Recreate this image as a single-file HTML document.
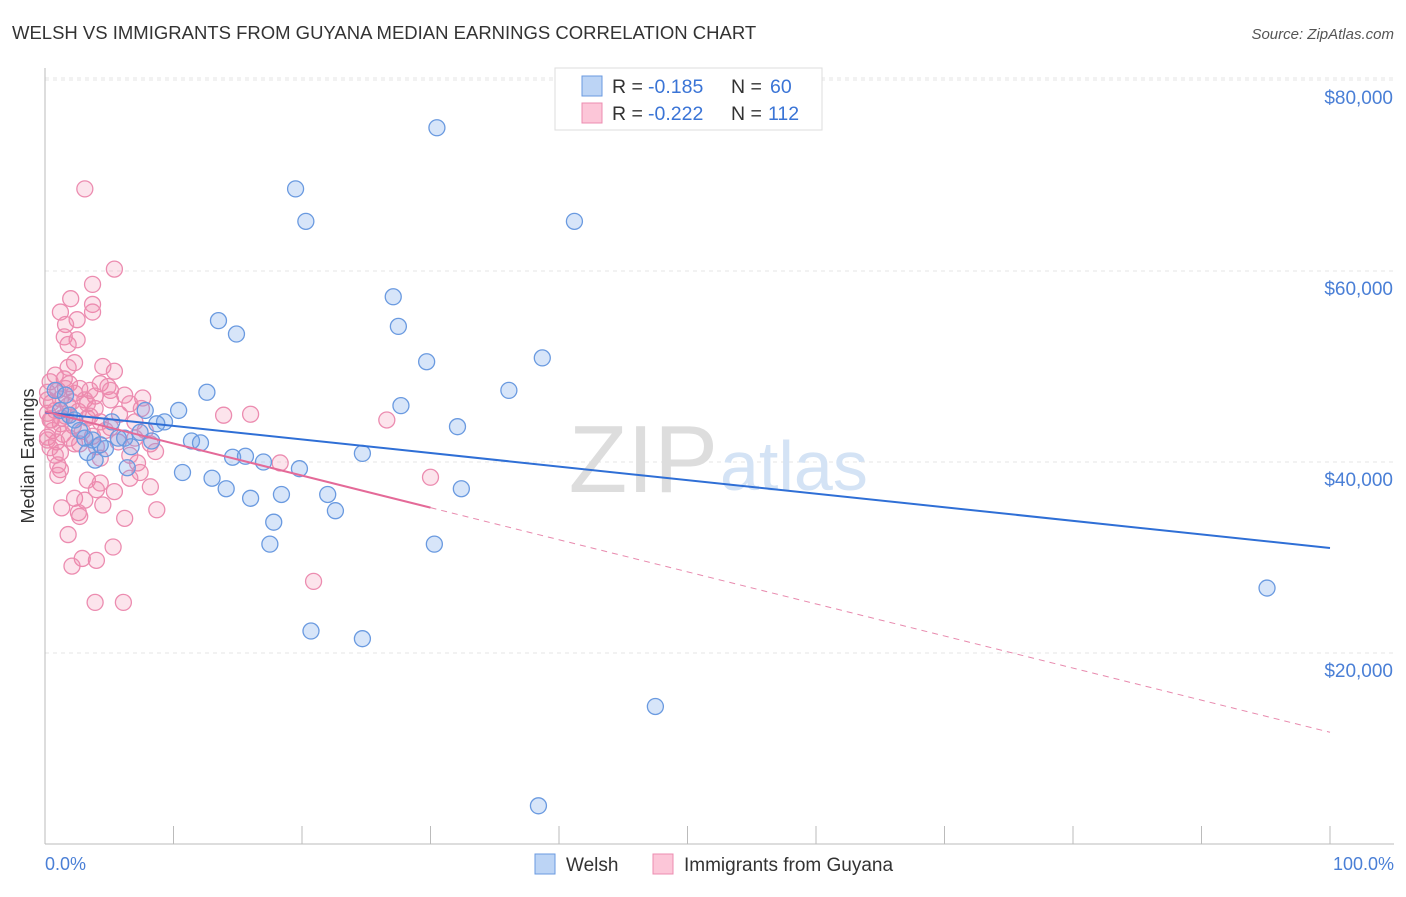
<!DOCTYPE html>
<html><head><meta charset="utf-8"><style>
body{margin:0;background:#fff;font-family:"Liberation Sans",sans-serif;}
svg text{font-family:"Liberation Sans",sans-serif;}
</style></head><body>
<svg id="chart" width="1406" height="892">
<text x="12" y="39" font-size="18.5" fill="#333">WELSH VS IMMIGRANTS FROM GUYANA MEDIAN EARNINGS CORRELATION CHART</text>
<text x="1394" y="39" font-size="15" fill="#555" text-anchor="end" font-style="italic">Source: ZipAtlas.com</text>
<g id="grid"></g>
<text x="718" y="492" font-size="96" fill="#ddd" text-anchor="end" font-family="Liberation Serif">ZIP</text>
<text x="720" y="490" font-size="70" fill="#d4e3f5">atlas</text>
<g id="axes"></g>
<g id="marks"></g>
<text x="34" y="456" font-size="18" fill="#333" text-anchor="middle" transform="rotate(-90 34 456)">Median Earnings</text>
<text x="45" y="870" font-size="18" fill="#4a7fd6">0.0%</text>
<text x="1394" y="870" font-size="18" fill="#4a7fd6" text-anchor="end">100.0%</text>
<g>
<rect x="555" y="68" width="267" height="62" fill="#fff" stroke="#ddd"/>
<rect x="582" y="76" width="20" height="20" fill="#bcd4f5" stroke="#6a9ae0"/>
<rect x="582" y="103" width="20" height="20" fill="#fcc6d8" stroke="#ec8cb0"/>
<text x="612" y="93" font-size="19.5" fill="#333">R =</text>
<text x="648" y="93" font-size="19.5" fill="#3a74d6">-0.185</text>
<text x="731" y="93" font-size="19.5" fill="#333">N =</text>
<text x="770" y="93" font-size="19.5" fill="#3a74d6">60</text>
<text x="612" y="120" font-size="19.5" fill="#333">R =</text>
<text x="648" y="120" font-size="19.5" fill="#3a74d6">-0.222</text>
<text x="731" y="120" font-size="19.5" fill="#333">N =</text>
<text x="768" y="120" font-size="19.5" fill="#3a74d6">112</text>
</g>
<g>
<rect x="535" y="854" width="20" height="20" fill="#bcd4f5" stroke="#6a9ae0"/>
<text x="566" y="871" font-size="19" fill="#333">Welsh</text>
<rect x="653" y="854" width="20" height="20" fill="#fcc6d8" stroke="#ec8cb0"/>
<text x="684" y="871" font-size="19" fill="#333">Immigrants from Guyana</text>
</g>
</svg>
<script>
const yTicks=[20000,40000,60000,80000];
const yTickLabels=["$20,000","$40,000","$60,000","$80,000"];
const xTicks=[0,10,20,30,40,50,60,70,80,90,100];
const welshX=[30.5,19.5,20.3,41.2,27.1,13.5,14.9,27.5,38.7,29.7,36.1,12.6,27.7,10.4,7.8,32.1,9.3,8.7,5.2,7.4,11.4,12.1,8.3,5.7,6.2,3.7,6.7,4.7,3.3,24.7,14.6,15.6,17.0,19.8,6.4,10.7,13.0,14.1,16.0,18.4,22.0,32.4,22.6,17.8,17.5,30.3,20.7,24.7,95.1,47.5,38.4,1.2,1.9,2.3,0.8,1.6,3.9,2.7,4.3,3.1];
const welshY=[75.0,68.6,65.2,65.2,57.3,54.8,53.4,54.2,50.9,50.5,47.5,47.3,45.9,45.4,45.4,43.7,44.2,44.0,44.2,43.1,42.2,42.0,42.2,42.5,42.5,42.3,41.6,41.4,41.0,40.9,40.5,40.6,40.0,39.3,39.4,38.9,38.3,37.2,36.2,36.6,36.6,37.2,34.9,33.7,31.4,31.4,22.3,21.5,26.8,14.4,4.0,45.4,44.9,44.4,47.5,47.0,40.2,43.3,41.8,42.5];
const guyX=[3.1,5.4,3.7,2.0,3.7,1.2,3.7,2.5,1.6,1.5,2.5,1.8,2.3,4.5,5.4,0.8,1.5,0.4,1.9,4.3,4.9,2.7,1.0,3.5,5.1,0.2,2.3,6.2,3.9,7.6,1.2,3.1,0.5,6.6,1.8,3.9,0.8,2.6,0.2,5.8,13.9,16.0,1.6,3.3,0.4,4.3,26.6,1.2,2.2,5.1,0.6,2.9,1.4,3.7,0.2,1.9,7.0,0.9,8.2,2.7,4.0,8.6,1.2,6.6,4.3,18.3,7.2,1.0,1.2,7.4,1.0,30.0,6.6,3.3,4.3,8.2,4.0,5.4,2.3,3.1,4.5,1.3,8.7,2.6,2.7,6.2,1.8,5.3,2.9,4.0,2.1,20.9,3.9,6.1,0.2,0.5,0.2,1.6,2.1,5.1,1.3,3.3,7.0,7.8,5.7,0.8,2.3,4.7,7.5,1.8,0.4,3.5];
const guyY=[68.6,60.2,58.6,57.1,56.5,55.7,55.7,54.9,54.4,53.1,52.8,52.3,50.4,50.0,49.5,49.1,48.7,48.4,48.2,48.2,47.9,47.7,47.5,47.5,47.5,47.3,47.2,47.0,46.9,46.7,46.6,46.5,46.2,46.1,45.9,45.6,45.4,45.3,45.1,45.0,44.9,45.0,44.8,44.6,44.4,44.2,44.4,44.0,43.8,43.6,43.3,43.2,42.9,42.7,42.6,42.5,42.5,42.1,41.9,41.9,41.6,41.1,41.0,40.7,40.4,39.9,39.9,39.7,39.2,38.9,38.6,38.4,38.3,38.1,37.8,37.4,37.1,36.9,36.2,36.0,35.5,35.2,35.0,34.7,34.3,34.1,32.4,31.1,29.9,29.7,29.1,27.5,25.3,25.3,46.5,44.4,42.3,47.7,46.3,46.5,44.6,46.1,44.2,43.3,42.1,40.7,41.9,43.3,45.6,49.9,41.5,44.8];
const welshTrend=[45.2,31.0];
const guyTrend=[45.3,11.7];
const guySolidEnd=30;
const X0=45,X1=1330,Y0=844,PER=191/20;
const sx=v=>X0+(X1-X0)*v/100;
const sy=v=>Y0-v*PER;
const NS="http://www.w3.org/2000/svg";
function mk(tag,attrs,parent){const e=document.createElementNS(NS,tag);for(const k in attrs)e.setAttribute(k,attrs[k]);parent.appendChild(e);return e;}
const gridG=document.getElementById('grid'),axesG=document.getElementById('axes'),marksG=document.getElementById('marks');
const topLine=mk('line',{x1:X0,x2:1394,y1:78,y2:78,stroke:'#e4e4e4','stroke-dasharray':'4,4'},gridG);


yTicks.forEach((t,i)=>{
 const y=sy(t/1000);
 const l=mk('line',{x1:X0,x2:1394,y1:y,y2:y,stroke:'#e4e4e4','stroke-dasharray':'4,4'},gridG);
 
 
 const tx=mk('text',{x:1393,y:y+24,'font-size':19,fill:'#4a7fd6','text-anchor':'end'},axesG);
 tx.textContent=yTickLabels[i];
 
 
});
const ax=mk('line',{x1:X0,x2:1394,y1:Y0,y2:Y0,stroke:'#bbb'},axesG);


const ay=mk('line',{x1:X0,x2:X0,y1:68,y2:Y0,stroke:'#bbb'},axesG);


xTicks.forEach(t=>{
 const tk=mk('line',{x1:sx(t),x2:sx(t),y1:826,y2:Y0,stroke:'#bbb'},axesG);
 
 
});
guyX.forEach((x,i)=>{
 const c=mk('circle',{cx:sx(x),cy:sy(guyY[i]),r:8,fill:'rgba(240,130,170,0.22)',stroke:'#ec8cb0','stroke-width':1.3},marksG);
 
 
});
welshX.forEach((x,i)=>{
 const c=mk('circle',{cx:sx(x),cy:sy(welshY[i]),r:8,fill:'rgba(110,160,235,0.28)',stroke:'#6a9ae0','stroke-width':1.3},marksG);
 
 
});
const wl=mk('line',{x1:sx(0),y1:sy(welshTrend[0]),x2:sx(100),y2:sy(welshTrend[1]),stroke:'#2f6fd6','stroke-width':2},marksG);


const gy=x=>guyTrend[0]+(guyTrend[1]-guyTrend[0])*x/100;
const gl=mk('line',{x1:sx(0),y1:sy(gy(0)),x2:sx(guySolidEnd),y2:sy(gy(guySolidEnd)),stroke:'#e46a98','stroke-width':2},marksG);


const gd=mk('line',{x1:sx(guySolidEnd),y1:sy(gy(guySolidEnd)),x2:sx(100),y2:sy(gy(100)),stroke:'#e88aae','stroke-width':1,'stroke-dasharray':'6,5'},marksG);


</script>
</body></html>
